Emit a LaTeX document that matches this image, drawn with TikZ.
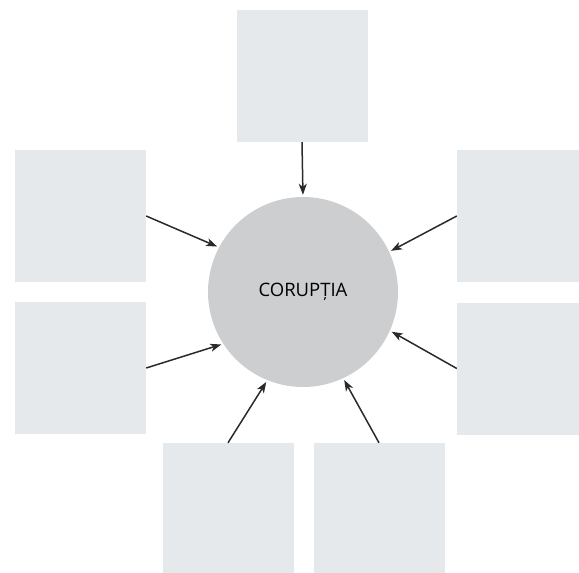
\documentclass[tikz,border=0pt]{standalone}
\usepackage{fontspec}
\setsansfont{Open Sans}
\usetikzlibrary{arrows.meta}
\definecolor{boxgray}{HTML}{E6E9EC}
\definecolor{ballgray}{HTML}{CDCED0}
\definecolor{arrowgray}{HTML}{2A2A2A}
\begin{document}
\begin{tikzpicture}[x=1pt, y=-1pt,
    cell/.style={fill=boxgray, minimum width=131pt, minimum height=132pt, inner sep=0pt},
    feed/.style={-{Stealth[length=11pt, width=8pt, inset=3pt]}, color=arrowgray, line width=1.5pt, shorten >=2pt}]
    \useasboundingbox (0, 0) rectangle (579, 573);
    \node[cell] (top) at (302, 76) {};
    \node[cell] (lefttop) at (80.5, 216) {};
    \node[cell] (leftbot) at (80.5, 368) {};
    \node[cell] (righttop) at (522.5, 216) {};
    \node[cell] (rightbot) at (522.5, 368.5) {};
    \node[cell] (botleft) at (228, 509) {};
    \node[cell] (botright) at (379, 509) {};
    \node[circle, fill=ballgray, minimum size=190pt, inner sep=0pt, text=black,
          font=\sffamily\fontsize{18.5}{22}\selectfont] (core) at (303, 292) {CORUPȚIA};
    \draw[feed] (top.south) -- (core.north);
    \draw[feed] (lefttop.east) -- (core.152);
    \draw[feed] (leftbot.east) -- (core.213);
    \draw[feed] (righttop.west) -- (core.25);
    \draw[feed] (rightbot.west) -- (core.336);
    \draw[feed] (botleft.north) -- (core.248);
    \draw[feed] (botright.north) -- (core.295);
\end{tikzpicture}
\end{document}
